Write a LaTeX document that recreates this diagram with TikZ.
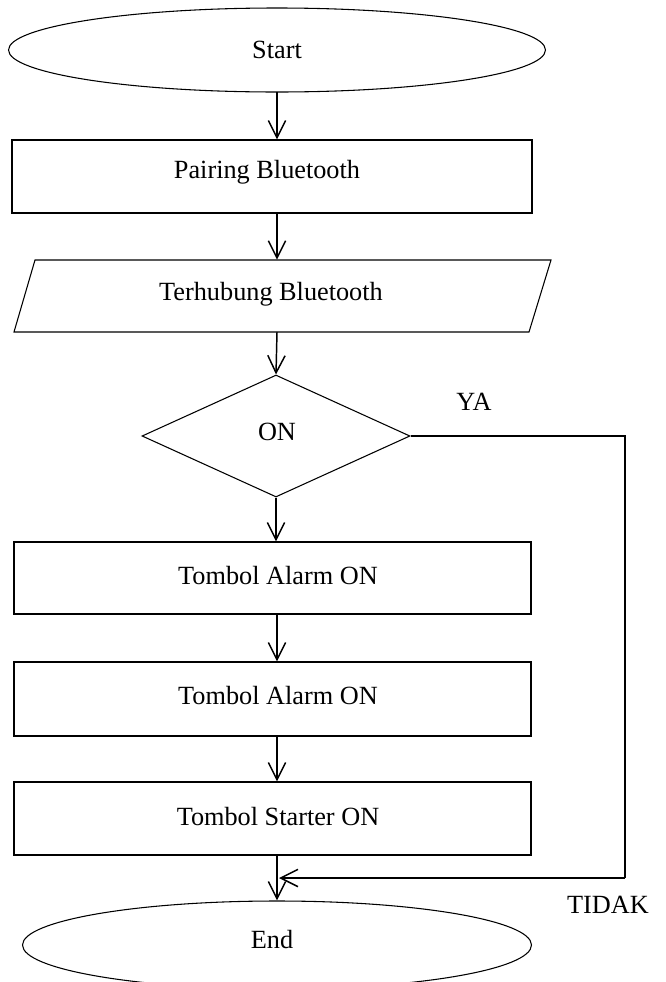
\documentclass[tikz,border=0pt]{standalone}
\usepackage{fontspec}
\setmainfont{Liberation Serif}
\usetikzlibrary{shapes.geometric,arrows.meta}
\begin{document}
\begin{tikzpicture}[x=0.75pt,y=-0.75pt,
  every node/.style={font=\fontsize{19.7}{23}\selectfont, inner sep=0pt},
  box/.style={draw, line width=0.8pt, rectangle},
  oval/.style={draw, line width=0.8pt, ellipse},
  decide/.style={draw, line width=0.8pt, diamond},
  arr/.style={line width=1.1pt, -{Straight Barb[length=13pt,width=13pt,line width=1.1pt]}},
  ln/.style={line width=1.1pt}]
\useasboundingbox (0,0) rectangle (665,982);
\clip (0,0) rectangle (665,982);
% nodes
\node[oval, minimum width=402.75pt, minimum height=63pt] (start) at (277,50) {};
\node at (277,50) (starttxt) {Start};
\node[box, minimum width=390pt, minimum height=54.75pt] (pair) at (272,176.5) {};
\node at (267,172) (pairtxt) {Pairing Bluetooth};
\node[minimum width=387pt, minimum height=54pt] (conn) at (282,296) {};
\draw[line width=0.8pt] (35,260) coordinate (c1) -- (551,260) coordinate (c2) -- (529,332) coordinate (c3) -- (14,332) coordinate (c4) -- cycle;
\node at (271,294) (conntxt) {Terhubung Bluetooth};
\node[decide, minimum width=201pt, minimum height=91.5pt, aspect=2.2] (dec) at (276,436) {};
\node at (277,432) (dectxt) {ON};
\node[box, minimum width=387.75pt, minimum height=54pt] (r1) at (272.5,578) {};
\node at (278,576) (r1txt) {Tombol Alarm ON};
\node[box, minimum width=387.75pt, minimum height=55.5pt] (r2) at (272.5,699) {};
\node at (278,696) (r2txt) {Tombol Alarm ON};
\node[box, minimum width=387.75pt, minimum height=54.75pt] (r3) at (272.5,818.5) {};
\node at (278,817) (r3txt) {Tombol Starter ON};
\node[oval, minimum width=381.75pt, minimum height=66pt] (end) at (277,945) {};
\node at (272,940) (endtxt) {End};
\node at (474,402) (ya) {YA};
\node at (608,905) (tidak) {TIDAK};
% connectors
\draw[arr] (277,92) coordinate (s1) -- (s1 |- pair.north);
\draw[arr] (277,213) coordinate (s2) -- (s2 |- conn.north);
\draw[arr] (277,332) coordinate (s3) -- (dec.north);
\draw[arr] (dec.south) -- (dec.south |- r1.north);
\draw[arr] (277,614) coordinate (s5) -- (s5 |- r2.north);
\draw[arr] (277,736) coordinate (s6) -- (s6 |- r3.north);
\draw[arr] (277,855) coordinate (s7) -- (s7 |- end.north);
\coordinate (corner) at (625,878);
\coordinate (join) at (279,878);
\draw[ln] (dec.east) -- (dec.east -| corner) -- (corner);
\draw[arr] (corner) -- (join);
\end{tikzpicture}
\end{document}
